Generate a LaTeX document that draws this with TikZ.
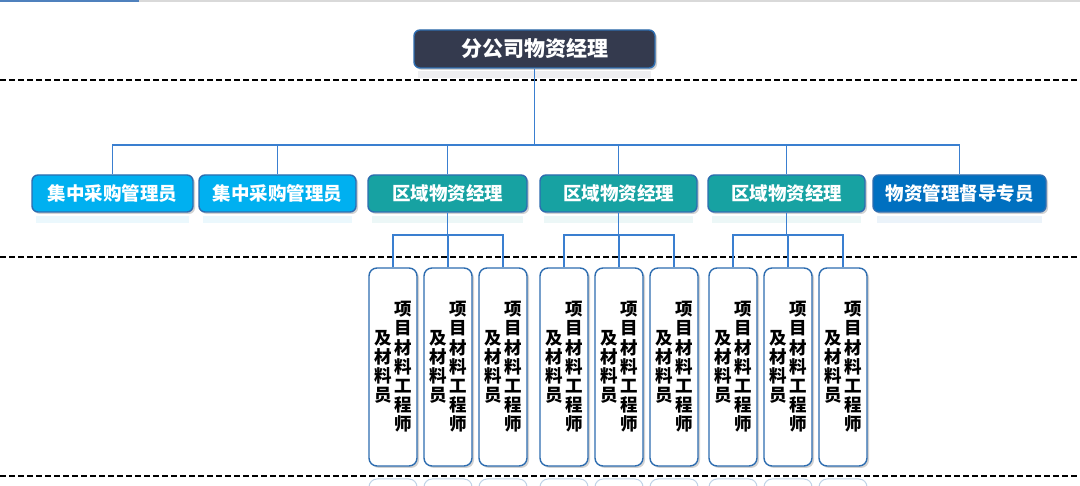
\documentclass[tikz,border=0pt]{standalone}
\usepackage{fontspec}
\newfontfamily\cjk{Noto Sans CJK SC}
\usetikzlibrary{shadows,calc}
\definecolor{navy}{HTML}{343A4E}
\definecolor{cyanbox}{HTML}{00B0F0}
\definecolor{tealbox}{HTML}{17A2A2}
\definecolor{bluebox}{HTML}{0070C0}
\definecolor{edge}{HTML}{2E6DB0}
\definecolor{conn}{HTML}{3A7FD0}
\definecolor{topblue}{HTML}{4F81BD}
\definecolor{topgray}{HTML}{D9D9D9}
\tikzset{
  x=1pt, y=-1pt,
  shad/.style={drop shadow={shadow xshift=2pt, shadow yshift=-2pt, opacity=0.35, fill=gray}},
  topbox/.style={draw=edge, line width=1.4pt, fill=navy, rounded corners=6pt, shad,
    minimum width=241pt, minimum height=38pt, inner sep=0pt,
    font=\cjk\bfseries\fontsize{21}{24}\selectfont, text=white},
  rowbox/.style={draw=edge, line width=1.4pt, rounded corners=6pt, shad,
    minimum height=37pt, inner sep=0pt,
    font=\cjk\bfseries\fontsize{18.5}{21}\selectfont, text=white},
  vbox/.style={draw=edge, line width=1.4pt, fill=white, rounded corners=8pt, shad,
    minimum width=48pt, minimum height=198pt, inner sep=0pt},
  vtext/.style={font=\cjk\bfseries\fontsize{17.5}{19.2}\selectfont, text=black, inner sep=0pt, align=center},
  conline/.style={draw=conn, line width=1.6pt},
  sep/.style={draw=black, line width=1.6pt, dash pattern=on 6pt off 3pt},
  refl/.style={draw=edge!30, line width=1pt, fill=white, rounded corners=8pt},
  reflfill/.style={fill=#1, opacity=0.08},
}
\newcommand{\vlabel}[2]{%
  \node[vbox] (#1) at (#2,367) {};
  \node[vtext] (#1r) at ([xshift=10pt]#1.center) {项\\目\\材\\料\\工\\程\\师};
  \node[vtext] (#1l) at ([xshift=-10pt]#1.center) {及\\材\\料\\员};
}
\begin{document}
\begin{tikzpicture}
\useasboundingbox (0,0) rectangle (1080,486);
\fill[white] (0,0) rectangle (1080,486);
% top bar
\fill[topgray] (0,0) rectangle (1080,2);
\fill[topblue] (0,0) rectangle (139,2);
% reflections
\fill[reflfill=navy] (418,71) rectangle (651,78);
\foreach \a/\b/\c in {32/193/cyanbox,199/356/cyanbox,368/527/tealbox,540/697/tealbox,708/865/tealbox,873/1046/bluebox}
  \fill[reflfill=\c] (\a+4,216) rectangle (\b-4,223);
\foreach \cx in {393,448,503,564,619,674,733,788,843}
  \draw[refl] (\cx-24,500) -- (\cx-24,479) -- (\cx+24,479) -- (\cx+24,500);
% separators
\draw[sep] (0,80) -- (1080,80);
\draw[sep] (0,257) -- (1080,257);
\draw[sep] (0,476) -- (1080,476);
% top
\node[topbox] (top) at (534.5,49) {分公司物资经理};
% row 2
\node[rowbox, fill=cyanbox, minimum width=161pt] (b1) at (112.5,193.5) {集中采购管理员};
\node[rowbox, fill=cyanbox, minimum width=157pt] (b2) at (277.5,193.5) {集中采购管理员};
\node[rowbox, fill=tealbox, minimum width=159pt] (b3) at (447.5,193.5) {区域物资经理};
\node[rowbox, fill=tealbox, minimum width=157pt] (b4) at (618.5,193.5) {区域物资经理};
\node[rowbox, fill=tealbox, minimum width=157pt] (b5) at (786.5,193.5) {区域物资经理};
\node[rowbox, fill=bluebox, minimum width=173pt] (b6) at (959.5,193.5) {物资管理督导专员};
\coordinate (bus) at (0,145);
\draw[conline] (top.south) -- (top.south |- bus);
\draw[conline] (b1.north) -- (b1.north |- bus) -- (b6.north |- bus) -- (b6.north);
\foreach \n in {b2,b3,b4,b5}
  \draw[conline] (\n.north) -- (\n.north |- bus);
% row 3
\vlabel{c1}{393}
\vlabel{c2}{448}
\vlabel{c3}{503}
\vlabel{c4}{564}
\vlabel{c5}{619}
\vlabel{c6}{674}
\vlabel{c7}{733}
\vlabel{c8}{788}
\vlabel{c9}{843}
\coordinate (busb) at (0,235);
\foreach \pp/\qa/\qb/\qc in {b3/c1/c2/c3,b4/c4/c5/c6,b5/c7/c8/c9}{
  \draw[conline] (\pp.south) -- (\pp.south |- busb);
  \draw[conline] (\qa.north) -- (\qa.north |- busb) -- (\qc.north |- busb) -- (\qc.north);
  \draw[conline] (\qb.north) -- (\qb.north |- busb);
}
\end{tikzpicture}
\end{document}
